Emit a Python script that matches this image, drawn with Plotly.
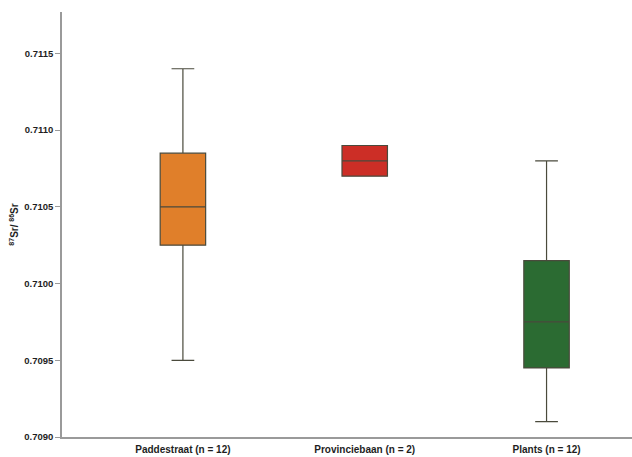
import plotly.graph_objects as go

# Strontium isotope ratios per sampling group (box summary statistics)
groups = ["Paddestraat (n = 12)", "Provinciebaan (n = 2)", "Plants (n = 12)"]
lower_fence = [0.7095, 0.7107, 0.7091]
q1_vals = [0.71025, 0.7107, 0.70945]
medians = [0.7105, 0.7108, 0.70975]
q3_vals = [0.71085, 0.7109, 0.71015]
upper_fence = [0.7114, 0.7109, 0.7108]
fill_colors = ["#E07F2A", "#CC2E26", "#2B6B32"]

y_ticks = [0.7090, 0.7095, 0.7100, 0.7105, 0.7110, 0.7115]

fig = go.Figure()
for i, name in enumerate(groups):
    fig.add_trace(go.Box(
        x=[name],
        lowerfence=[lower_fence[i]],
        q1=[q1_vals[i]],
        median=[medians[i]],
        q3=[q3_vals[i]],
        upperfence=[upper_fence[i]],
        fillcolor=fill_colors[i],
        line=dict(color="#4a4a3c", width=1.2),
        width=0.25,
        whiskerwidth=0.5,
        boxpoints=False,
        showlegend=False,
        hoverinfo="skip",
    ))

label_font = "Liberation Sans, Arial, sans-serif"

fig.update_layout(
    width=632,
    height=457,
    margin=dict(l=62, r=0, t=12, b=20),
    paper_bgcolor="white",
    plot_bgcolor="white",
    font=dict(family=label_font, color="#222"),
    xaxis=dict(
        type="category",
        categoryorder="array",
        categoryarray=groups,
        range=[-0.665, 2.47],
        showline=True,
        linecolor="#9a9a9a",
        linewidth=1.5,
        ticks="",
        showgrid=False,
        tickfont=dict(size=10, color="#1e1e1e", family=label_font, weight="bold"),
        ticklabelstandoff=2,
    ),
    yaxis=dict(
        range=[0.7090, 0.71177],
        tickvals=y_ticks,
        ticktext=[f"{v:.4f}" for v in y_ticks],
        showline=True,
        linecolor="#9a9a9a",
        linewidth=1.5,
        ticks="outside",
        ticklen=5,
        tickcolor="#9a9a9a",
        showgrid=False,
        zeroline=False,
        tickfont=dict(size=9.5, color="#1e1e1e", family=label_font, weight="bold"),
        title=dict(
            text="<sup>87</sup>Sr/ <sup>86</sup>Sr",
            font=dict(size=10, color="#1e1e1e", family=label_font, weight="bold"),
            standoff=4,
        ),
    ),
)

fig.write_html("out.html")
